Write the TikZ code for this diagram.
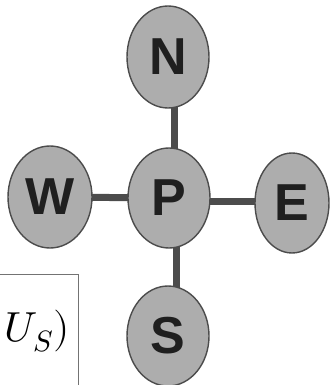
\documentclass[tikz,border=0pt]{standalone}
\usepackage{fontspec}
\usepackage{unicode-math}
\setmathfont{Latin Modern Math}
\usetikzlibrary{shapes.geometric,backgrounds}
\newfontfamily\nodefont{Liberation Sans}
\begin{document}
\begin{tikzpicture}[x=1pt,y=-1pt,
  cell/.style={ellipse, draw=black!70, line width=1.4pt, fill=black!32, inner sep=0pt,
    font=\nodefont\bfseries\fontsize{52}{52}\selectfont, text=black!88},
  bar/.style={draw=black!70, line width=7pt}]
\useasboundingbox (0,0) rectangle (331,385);
\draw[fill=white, draw=black!55, line width=0.9pt] (-20,274) rectangle (78,400);
\node[anchor=base east, inner sep=0pt, font=\fontsize{42}{42}\selectfont] (lbl) at (70,341) {$U_S)$};
\node[cell, minimum width=82pt, minimum height=102pt] (N) at (168,57) {N};
\node[cell, minimum width=82pt, minimum height=100pt] (P) at (169,198) {P};
\node[cell, minimum width=84pt, minimum height=102pt] (W) at (50,197) {W};
\node[cell, minimum width=74pt, minimum height=100pt] (E) at (292,203) {E};
\node[cell, minimum width=82pt, minimum height=100pt] (S) at (168,336) {S};
\begin{scope}[on background layer]
\draw[bar] (N.center) ++(6,0) coordinate (n1) -- (P.center -| n1);
\draw[bar] (W.center) -- (P.center);
\draw[bar] (P.center) ++(0,3) coordinate (e1) -- (E.center |- e1);
\draw[bar] (P.center) ++(7,0) coordinate (s1) -- (S.center -| s1);
\end{scope}
\end{tikzpicture}
\end{document}
